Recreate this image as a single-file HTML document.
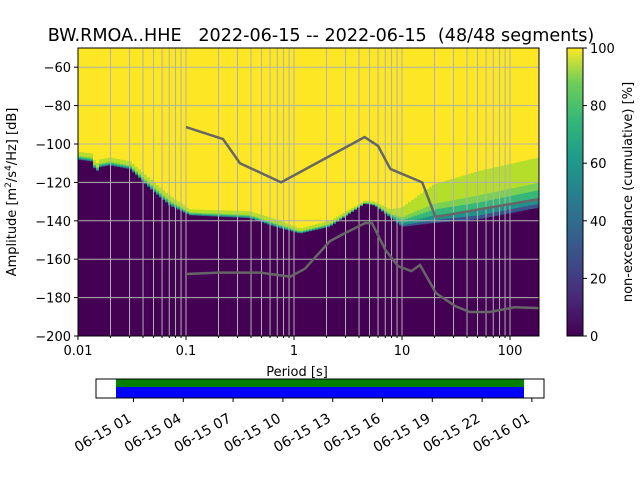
<!DOCTYPE html>
<html><head><meta charset="utf-8"><style>
body{margin:0;background:#fff;}
svg{display:block;font-family:"DejaVu Sans","Liberation Sans",sans-serif;}
</style></head><body>
<svg id="c" width="640" height="480" viewBox="0 0 640 480">
<defs>
<linearGradient id="vir" x1="0" y1="1" x2="0" y2="0">
<stop offset="0" stop-color="#440154"/><stop offset="0.13" stop-color="#482878"/><stop offset="0.25" stop-color="#3e4989"/><stop offset="0.38" stop-color="#31688e"/><stop offset="0.5" stop-color="#26828e"/><stop offset="0.63" stop-color="#1f9e89"/><stop offset="0.75" stop-color="#35b779"/><stop offset="0.88" stop-color="#6ece58"/><stop offset="1" stop-color="#fde725"/>
</linearGradient>
<clipPath id="pc"><rect x="78" y="48" width="461" height="288"/></clipPath>
</defs>
<text x="321" y="41" font-size="17.6" text-anchor="middle" xml:space="preserve">BW.RMOA..HHE   2022-06-15 -- 2022-06-15  (48/48 segments)</text>
<g id="plot" clip-path="url(#pc)">
<rect x="78" y="48" width="461" height="288" fill="#fde725"/>
<g id="dens"></g>
<g id="grid"></g>
<g id="models"></g>
</g>
<rect x="78" y="48" width="461" height="288" fill="none" stroke="#000" stroke-width="1"/>
<g id="axes" font-size="13"></g>
<text x="297" y="376" font-size="13" text-anchor="middle">Period [s]</text>
<text transform="translate(16,192) rotate(-90)" font-size="13" text-anchor="middle">Amplitude [m<tspan baseline-shift="super" font-size="9">2</tspan>/s<tspan baseline-shift="super" font-size="9">4</tspan>/Hz] [dB]</text>
<rect x="567" y="48" width="16" height="288" fill="url(#vir)" stroke="#000" stroke-width="1"/>
<g id="cbax" font-size="13"></g>
<text transform="translate(632,192) rotate(-90)" font-size="13" text-anchor="middle">non-exceedance (cumulative) [%]</text>
<g>
<rect x="96" y="379" width="448" height="19" fill="#fff"/>
<rect x="116" y="379" width="408" height="8" fill="#008000"/>
<rect x="116" y="387" width="408" height="11" fill="#0000ff"/>
<rect x="96" y="379" width="448" height="19" fill="none" stroke="#000" stroke-width="1"/>
</g>
<g id="dates" font-size="14"></g>
</svg>
<script>
const periodKnots=[0.01,0.0136,0.0147,0.0159,0.0198,0.0305,0.0464,0.0711,0.109,0.39,0.667,1.14,2.15,4.54,5.6,7.7,10,19.8,52,186];
const purpleTopDb=[-108,-109,-115,-112,-111,-113,-123,-132,-137,-138.5,-143,-146.5,-143,-131,-132,-138,-143,-141,-139,-133];
const yellowBottomDb=[-104,-105,-111,-108,-107,-109,-118,-127,-134,-135,-139,-144,-140,-129.5,-130,-134,-133,-121,-114,-107];
const nhnmPeriods=[0.1,0.22,0.316,0.76,4.0,4.5,6.0,7.8,15.4,20.4,186];
const nhnmDb=[-91.2,-97.4,-110,-120,-98,-96.4,-101,-113,-120,-138,-128.7];
const nlnmPeriods=[0.1,0.206,0.484,0.918,1.26,2.15,2.97,4.54,5.27,6.96,9.18,12.2,14.7,20.6,31,42.4,65,90,111,186];
const nlnmDb=[-167.7,-167,-167,-169.1,-165,-150.6,-146.4,-141.2,-141.2,-154.8,-163.6,-166.2,-163,-177.6,-184.4,-187.5,-187.5,-186,-185,-185.5];
const yTicks=[-60,-80,-100,-120,-140,-160,-180,-200];
const xTicks=[0.01,0.1,1,10,100];
const xTickLabels=["0.01","0.1","1","10","100"];
const cbTicks=[0,20,40,60,80,100];
const dateLabels=["06-15 01","06-15 04","06-15 07","06-15 10","06-15 13","06-15 16","06-15 19","06-15 22","06-16 01"];

const NS="http://www.w3.org/2000/svg";
const X=p=>294+108*Math.log10(p);
const Y=d=>336-(d+200)*1.92;
function mk(tag,attrs,parent){const e=document.createElementNS(NS,tag);for(const k in attrs)e.setAttribute(k,attrs[k]);parent.appendChild(e);return e;}
function interp(xs,ys,p){const lp=Math.log10(p);for(let i=0;i<xs.length-1;i++){const a=Math.log10(xs[i]),b=Math.log10(xs[i+1]);if(lp<=b){const t=(lp-a)/(b-a);return ys[i]+t*(ys[i+1]-ys[i]);}}return ys[ys.length-1];}
const dens=document.getElementById('dens');
const bandCols=["#3b528b","#21918c","#35b779","#7ad151","#b5de2b"];
const bandW=[0.08,0.12,0.15,0.15,0.5];
for(let x=78;x<540;x+=3){
  const p=Math.pow(10,(x+1.5-294)/108);
  const lo=interp(periodKnots,purpleTopDb,p),hi=interp(periodKnots,yellowBottomDb,p);
  const yl=Y(lo),yh=Y(hi);
  const r=mk('rect',{x:x,y:yl,width:3,height:336-yl,fill:"#440154"},dens);
  
  
  let acc=0;
  for(let i=0;i<bandCols.length;i++){
    const h=(yl-yh)*bandW[i];acc+=h;
    const b=mk('rect',{x:x,y:yl-acc,width:3,height:h+0.3,fill:bandCols[i]},dens);
    
    
  }
}
const grid=document.getElementById('grid');
for(let dec=-2;dec<=2;dec++){for(let m=1;m<=9;m++){const p=m*Math.pow(10,dec);const x=X(p);if(x>539)continue;
  const l=mk('line',{x1:x,x2:x,y1:48,y2:336,stroke:"#b0b0b0","stroke-width":1},grid);
  
  }}
yTicks.forEach(d=>{const l=mk('line',{x1:78,x2:539,y1:Y(d),y2:Y(d),stroke:"#b0b0b0","stroke-width":1},grid);
  
  });
const models=document.getElementById('models');
const pl1=mk('polyline',{points:nhnmPeriods.map((p,i)=>X(p)+","+Y(nhnmDb[i])).join(" "),fill:"none",stroke:"#666","stroke-width":2.5},models);


const pl2=mk('polyline',{points:nlnmPeriods.map((p,i)=>X(p)+","+Y(nlnmDb[i])).join(" "),fill:"none",stroke:"#666","stroke-width":2.5},models);


const axes=document.getElementById('axes');
yTicks.forEach(d=>{const y=Y(d);mk('line',{x1:74,x2:78,y1:y,y2:y,stroke:"#000"},axes);
  const t=mk('text',{x:71,y:y+5,"text-anchor":"end"},axes);t.textContent="\u2212"+Math.abs(d);
  
  });
xTicks.forEach((p,i)=>{const x=X(p);mk('line',{x1:x,x2:x,y1:336,y2:340,stroke:"#000"},axes);
  const t=mk('text',{x:x,y:355,"text-anchor":"middle"},axes);t.textContent=xTickLabels[i];
  
  });
for(let dec=-2;dec<=2;dec++){for(let m=2;m<=9;m++){const x=X(m*Math.pow(10,dec));if(x>539)continue;mk('line',{x1:x,x2:x,y1:336,y2:338,stroke:"#000"},axes);}}
const cb=document.getElementById('cbax');
cbTicks.forEach(v=>{const y=336-v*2.88;mk('line',{x1:583,x2:587,y1:y,y2:y,stroke:"#000"},cb);
  const t=mk('text',{x:590,y:y+5},cb);t.textContent=v;
  
  });
const dates=document.getElementById('dates');
dateLabels.forEach((s,i)=>{const x=133.5+i*49.8;mk('line',{x1:x,x2:x,y1:398,y2:402,stroke:"#000"},dates);
  const t=mk('text',{x:x-1,y:421,"text-anchor":"end",transform:`rotate(-30 ${x-1} 421)`},dates);t.textContent=s;
  
  });
</script>
</body></html>
